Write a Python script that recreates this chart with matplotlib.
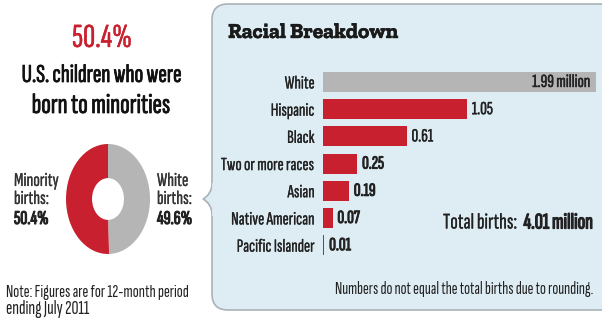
import matplotlib
matplotlib.use("Agg")
import matplotlib.pyplot as plt
from matplotlib.patches import FancyBboxPatch
from matplotlib.path import Path
import matplotlib.patches as mpatches
import matplotlib.patheffects as pe

# ---- data ----
categories = ["White", "Hispanic", "Black", "Two or more races", "Asian",
              "Native American", "Pacific Islander"]
births_millions = [1.99, 1.05, 0.61, 0.25, 0.19, 0.07, 0.01]
value_labels = ["1.99 million", "1.05", "0.61", "0.25", "0.19", "0.07", "0.01"]
donut_labels = ["Minority", "White"]
donut_shares = [50.4, 49.6]
total_births = 4.01

RED = "#c8202e"
GRAY = "#b5b5b5"
BG = "#deedf4"
EDGE = "#a9b3b8"
INK = "#222222"
NARROW = ["Sofia Sans Extra Condensed", "DejaVu Sans"]
SLAB = ["Zilla Slab", "DejaVu Serif"]


def thick(lw, col):
    return [pe.withStroke(linewidth=lw, foreground=col)]


W, H = 602, 319
fig = plt.figure(figsize=(W / 100, H / 100), dpi=100)
fig.patch.set_facecolor("white")


def fx(px):
    return px / W


def fy(py):
    return 1 - py / H


fitted = []


def ftext(x, y, s, target_w=None, **kw):
    t = fig.text(fx(x), fy(y), s, **kw)
    if target_w:
        fitted.append(([t], t, target_w))
    return t


# ---- background panel ----
bg = fig.add_axes([0, 0, 1, 1])
bg.set_xlim(0, W)
bg.set_ylim(H, 0)
bg.axis("off")
panel = FancyBboxPatch((212, 4), 420, 306, boxstyle="round,pad=0,rounding_size=16",
                       facecolor=BG, edgecolor=EDGE, linewidth=1.2, zorder=1)
bg.add_patch(panel)
codes = [Path.MOVETO, Path.CURVE3, Path.LINETO, Path.CURVE3, Path.LINETO]
verts = [(212.6, 183), (211, 195), (203, 199), (211, 203), (212.6, 215)]
brace = mpatches.PathPatch(Path(verts, codes), facecolor=BG, edgecolor=EDGE,
                           linewidth=1.2, zorder=2)
bg.add_patch(brace)
bg.plot([212.6, 212.6], [184, 214], color=BG, lw=2, zorder=3)

# ---- left texts ----
ftext(102, 47, "50.4%", 60, color=RED, fontsize=28, family=NARROW,
      ha="center", va="baseline", path_effects=thick(0.3, RED))
ftext(102, 82, "U.S. children who were", 160, color="#111111", fontsize=18,
      family=NARROW, ha="center", va="baseline", path_effects=thick(0.55, "#111111"))
ftext(101, 113, "born to minorities", 138, color="#111111", fontsize=18,
      family=NARROW, ha="center", va="baseline", path_effects=thick(0.55, "#111111"))

side_kw = dict(fontsize=12, family=NARROW, color="#333333", va="center",
               path_effects=thick(0.15, "#333333"))
pct_kw = dict(fontsize=12, family=NARROW, color=INK, va="center",
              path_effects=thick(0.8, INK))
side = [
    fig.text(fx(14), fy(181), "Minority", **side_kw),
    fig.text(fx(14), fy(199), "births:", **side_kw),
    fig.text(fx(14), fy(219), f"{donut_shares[0]}%", **pct_kw),
    fig.text(fx(157), fy(181), "White", **side_kw),
    fig.text(fx(157), fy(199), "births:", **side_kw),
    fig.text(fx(157), fy(219), f"{donut_shares[1]}%", **pct_kw),
]
fitted.append((side, side[0], 45))

note_kw = dict(fontsize=11, family=NARROW, color=INK, va="center")
ftext(6, 292, "Note: Figures are for 12-month period", 184, **note_kw)
ftext(6, 309, "ending July 2011", 84, **note_kw)

# ---- donut ----
dax = fig.add_axes([fx(66), fy(254), fx(84), 110 / H])
dax.pie(donut_shares, colors=[RED, GRAY], startangle=90, counterclock=True,
        wedgeprops=dict(width=0.62, edgecolor="none"), radius=1)
dax.set_aspect("auto")
dax.set_xlim(-1, 1)
dax.set_ylim(-1, 1)
dax.axis("off")

# ---- bar chart ----
row_h = 27.2
top = 82 - row_h / 2
n = len(categories)
scale = 273 / 1.99  # px per million
bax = fig.add_axes([fx(323), fy(top + n * row_h), fx(W - 323), n * row_h / H])
bax.set_xlim(0, (W - 323) / scale)
bax.set_ylim(n - 0.5, -0.5)
bax.patch.set_alpha(0)
for s in bax.spines.values():
    s.set_visible(False)
bax.set_xticks([])
bax.set_yticks(range(n))
ticklabels = bax.set_yticklabels(categories, family=NARROW, fontsize=12.5, color=INK,
                                 path_effects=thick(0.15, INK))
bax.tick_params(axis="y", length=0, pad=6)
colors = [GRAY] + [RED] * (n - 1)
bax.barh(range(n), births_millions, height=0.74, color=colors)
vals = []
for i, (v, lab) in enumerate(zip(births_millions, value_labels)):
    heavy = thick(0.7 if i >= 3 else 0.3, INK)
    if i == 0:
        vals.append(bax.text(v - 0.04, i, lab, ha="right", va="center",
                             family=NARROW, fontsize=12.5, color=INK, path_effects=heavy))
    else:
        vals.append(bax.text(v + 0.035, i, lab, ha="left", va="center",
                             family=NARROW, fontsize=12.5, color=INK, path_effects=heavy))
fitted.append((list(ticklabels) + vals, ticklabels[3], 92))

ftext(228, 33, "Racial Breakdown", 170, fontsize=15, weight="bold",
      family=SLAB, color="#1a1a1a", va="center", path_effects=thick(0.3, "#1a1a1a"))
t1 = fig.text(fx(443), fy(223), "Total births:", fontsize=14.5, family=NARROW,
              color=INK, va="center", ha="left", path_effects=thick(0.15, INK))
t2 = fig.text(fx(593), fy(223), f"{total_births:.2f} million", fontsize=14.5,
              family=NARROW, color=INK, va="center", ha="right",
              path_effects=thick(0.9, INK))
fitted.append(([t1, t2], t1, 74))
ftext(593, 289, "Numbers do not equal the total births due to rounding.", 261,
      fontsize=11, family=NARROW, color=INK, va="center", ha="right")

# fit text sizes to their measured widths in the reference
fig.canvas.draw()
r = fig.canvas.get_renderer()
for group, ref, tw in fitted:
    k = tw / ref.get_window_extent(r).width
    for t in group:
        t.set_fontsize(t.get_fontsize() * k)

fig.savefig("out.png", dpi=100, facecolor="white")
